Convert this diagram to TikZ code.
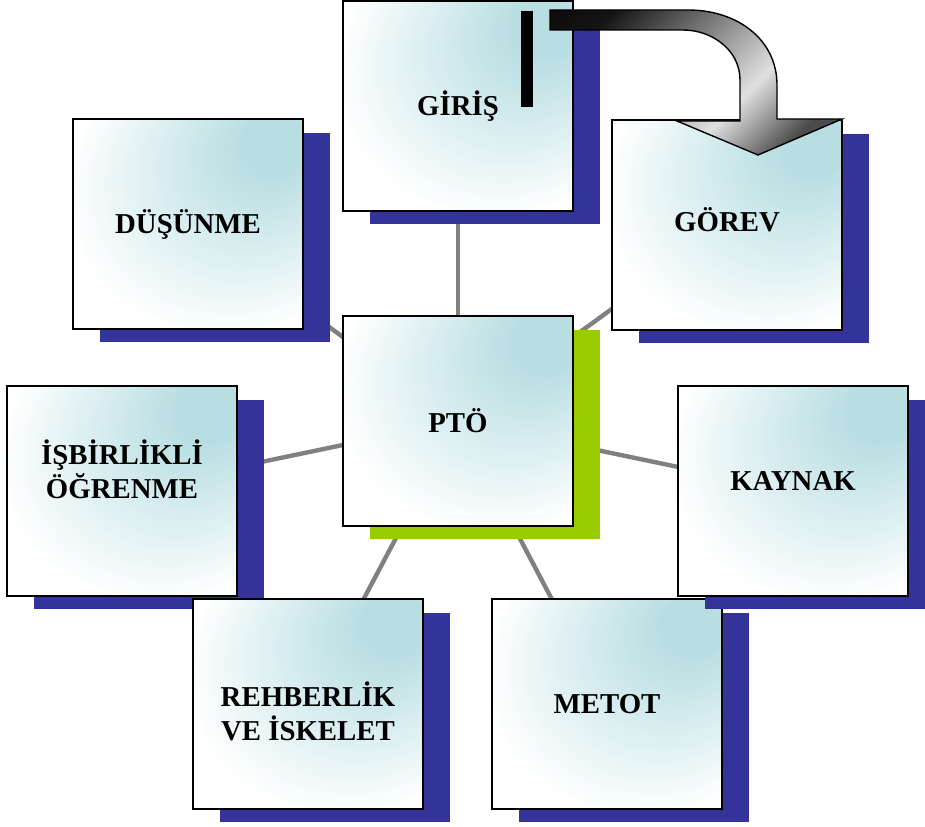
\documentclass[tikz,border=0pt]{standalone}
\usepackage{fontspec}
\setmainfont{Liberation Serif}
\definecolor{boxTeal}{RGB}{184,222,226}
\definecolor{shadowBlue}{RGB}{51,51,153}
\definecolor{shadowGreen}{RGB}{153,204,0}
\definecolor{linkGray}{RGB}{128,128,128}
\usepackage{tikz}
\usetikzlibrary{shadows, backgrounds}
\pgfdeclareradialshading{boxGlow}{\pgfpoint{22bp}{22bp}}{color(0bp)=(boxTeal); color(7bp)=(boxTeal); color(34bp)=(white); color(50bp)=(white)}
\pgfdeclarehorizontalshading{arrowShade}{100bp}{color(0bp)=(black); color(25bp)=(black!92); color(60bp)=(black!12); color(75bp)=(black!70); color(100bp)=(black!70)}

\begin{document}
\begin{tikzpicture}[x=0.02cm, y=-0.02cm,
  infobox/.style={draw=black, line width=1.1pt, inner sep=0pt, outer sep=0pt,
    minimum width=4.6cm, minimum height=4.2cm, align=center,
    font=\fontsize{16.4}{19}\selectfont\bfseries,
    shade, shading=boxGlow,
    general shadow={fill=#1, shadow xshift=0.54cm, shadow yshift=-0.27cm}},
  infobox/.default=shadowBlue,
  link/.style={draw=linkGray, line width=2.5pt}]
  \useasboundingbox (0,0) rectangle (925,827);

  % kutular
  \node[infobox] (giris) at (458,106) {GİRİŞ};
  \node[infobox] (dusunme) at (188,224) {DÜŞÜNME};
  \node[infobox, text depth=0.2cm] (gorev) at (727,225) {GÖREV};
  \node[infobox=shadowGreen] (pto) at (458,421) {PTÖ};
  \node[infobox] (metot) at (607,704) {METOT};
  \node[infobox, text depth=0.4cm] (kaynak) at (793,491) {KAYNAK};
  \node[infobox, text depth=0.88cm] (isbirlikli) at (122,491) {İŞBİRLİKLİ\\ÖĞRENME};
  \node[infobox, text height=1.45cm] (rehberlik) at (308,704) {REHBERLİK\\VE İSKELET};

  \begin{scope}[on background layer]
    \foreach \target in {giris, dusunme, gorev, isbirlikli, kaynak, rehberlik, metot}
      \draw[link] (pto.center) -- (\target.center);
  \end{scope}

  % egik ok
  \fill[black] (521,11) rectangle (533,107);
  \draw[line width=0.8pt, shade, shading=arrowShade, shading angle=-45]
    (550,10) -- (688,10) .. controls (738,10) and (777,40) .. (777,85)
    -- (777,119) -- (842,119) -- (758,155) -- (677,121) -- (740,121)
    -- (740,80) .. controls (740,50) and (712,30) .. (683,30)
    -- (550,30) -- cycle;
\end{tikzpicture}
\end{document}
